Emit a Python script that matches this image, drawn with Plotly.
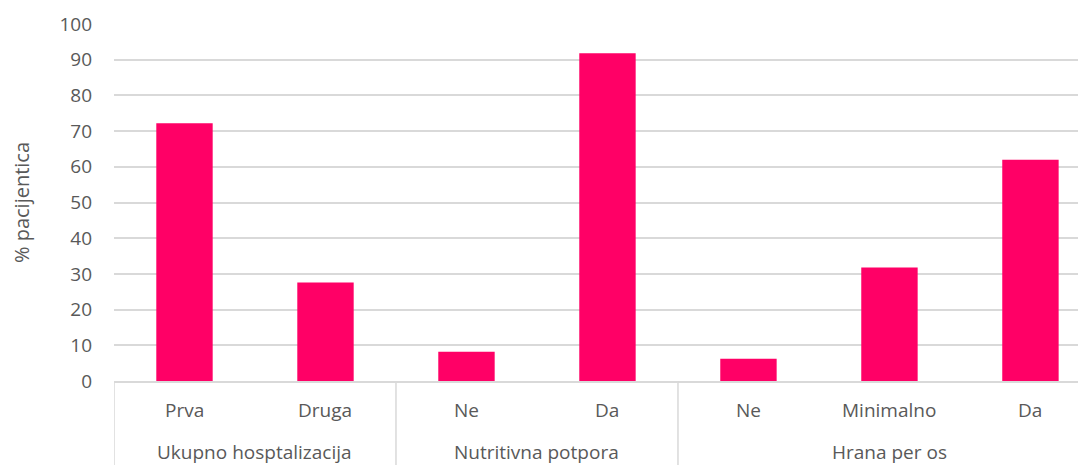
import plotly.graph_objects as go

groups = ["Ukupno hosptalizacija", "Nutritivna potpora", "Hrana per os"]
group_sizes = [2, 2, 3]
categories = ["Prva", "Druga", "Ne", "Da", "Ne", "Minimalno", "Da"]
values = [72.2, 27.6, 8.2, 91.8, 6.2, 31.8, 62.0]
y_ticks = [0, 10, 20, 30, 40, 50, 60, 70, 80, 90, 100]

font_family = "Open Sans, Lato, sans-serif"
text_color = "#595959"
grid_color = "#d9d9d9"
fsize = 19

# page body has an 8px default margin; compensate so the chart fills the window
W, H = 1078, 457
ML, MT, MB = 106, 16, 84

positions = list(range(len(categories)))

fig = go.Figure(go.Bar(
    x=positions,
    y=values,
    marker=dict(color="#FF0066", line=dict(width=0)),
    width=0.4,
))

plot_h = H - MT - MB
bottom_frac = MB / plot_h

annotations = []
shapes = []
start = 0
boundaries = [-0.5]
for g, n in zip(groups, group_sizes):
    center = start + (n - 1) / 2
    annotations.append(dict(
        x=center, xref="x", y=-(452 - 381) / plot_h, yref="paper",
        text=g, showarrow=False, yanchor="middle", xanchor="center",
        borderpad=0,
        font=dict(size=fsize, color=text_color, family=font_family),
    ))
    start += n
    boundaries.append(start - 0.5)

for b in boundaries:
    shapes.append(dict(
        type="line", xref="x", yref="paper", x0=b, x1=b, y0=0, y1=-bottom_frac,
        line=dict(color=grid_color, width=1.5),
    ))

for p, c in zip(positions, categories):
    annotations.append(dict(
        x=p, xref="x", y=-(410 - 381) / plot_h, yref="paper",
        text=c, showarrow=False, yanchor="middle", xanchor="center",
        borderpad=0,
        font=dict(size=fsize, color=text_color, family=font_family),
    ))

fig.update_layout(
    width=W, height=H,
    margin=dict(l=ML, r=0, t=MT, b=MB),
    paper_bgcolor="white", plot_bgcolor="white",
    showlegend=False,
    font=dict(family=font_family, color=text_color, size=fsize),
    annotations=annotations,
    shapes=shapes,
)

fig.update_xaxes(
    range=[-0.5, 6.394],
    showline=True, linecolor=grid_color, linewidth=1.5,
    showgrid=False, zeroline=False,
    showticklabels=False, ticks="",
)

fig.update_yaxes(
    range=[0, 100],
    tickvals=y_ticks,
    showgrid=True, gridcolor=grid_color, gridwidth=1.5,
    zeroline=False, showline=False,
    tickfont=dict(size=fsize, color=text_color, family=font_family),
    ticklabelstandoff=21,
    title=dict(text="% pacijentica", font=dict(size=20, color=text_color, family=font_family), standoff=24),
)

fig.write_html("out.html")
